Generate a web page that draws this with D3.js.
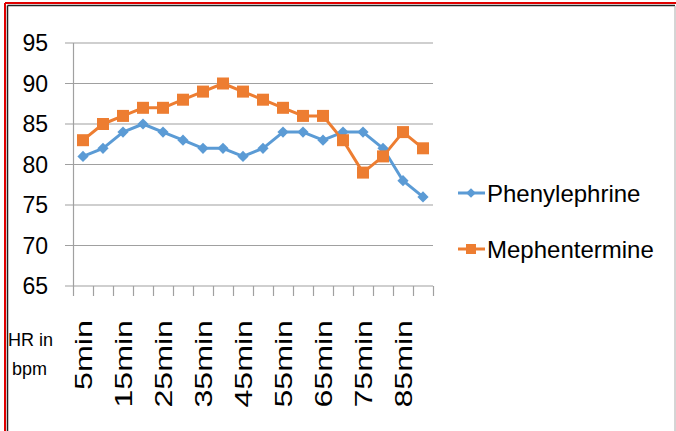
<!DOCTYPE html>
<html>
<head>
<meta charset="utf-8">
<script src="https://cdn.jsdelivr.net/npm/d3@7/dist/d3.min.js"></script>
<style>
  body { margin: 0; background: #fff; }
  text { font-family: "Liberation Sans", Arial, sans-serif; fill: #000; }
</style>
</head>
<body>
<div id="chart"></div>
<script>
const width = 676,
    height = 431;

// data
const categories = ['5min', '10min', '15min', '20min', '25min', '30min', '35min', '40min', '45min',
    '50min', '55min', '60min', '65min', '70min', '75min', '80min', '85min', '90min'];
const phenylephrine = [81, 82, 84, 85, 84, 83, 82, 82, 81, 82, 84, 84, 83, 84, 84, 82, 78, 76];
const mephentermine = [83, 85, 86, 87, 87, 88, 89, 90, 89, 88, 87, 86, 86, 83, 79, 81, 84, 82];
const yTicks = [65, 70, 75, 80, 85, 90, 95];
const seriesNames = ['Phenylephrine', 'Mephentermine'];

const svg = d3.select('#chart')
    .append('svg')
    .attr('width', width)
    .attr('height', height);

// frames
svg.append('line').attr('x1', 5).attr('y1', 3).attr('x2', width).attr('y2', 3)
    .attr('stroke', '#e00000').attr('stroke-width', 2);
svg.append('line').attr('x1', 5).attr('y1', 3).attr('x2', 5).attr('y2', height)
    .attr('stroke', '#e00000').attr('stroke-width', 2);
svg.append('line').attr('x1', 7.5).attr('y1', 5.5).attr('x2', 675).attr('y2', 5.5)
    .attr('stroke', '#222').attr('stroke-width', 1.5);
svg.append('line').attr('x1', 7.5).attr('y1', 5.5).attr('x2', 7.5).attr('y2', height)
    .attr('stroke', '#222').attr('stroke-width', 1.5);
svg.append('line').attr('x1', 675).attr('y1', 6).attr('x2', 675).attr('y2', height)
    .attr('stroke', '#aaa').attr('stroke-width', 1);

const x = d3.scaleBand()
    .domain(categories)
    .range([73, 433]);

const y = d3.scaleLinear()
    .domain([65, 95])
    .range([286, 43]);

// gridlines + y labels
const g = svg.append('g');
g.selectAll('.grid')
    .data(yTicks)
    .enter()
    .append('line')
    .attr('x1', 65)
    .attr('x2', 433)
    .attr('y1', d => y(d))
    .attr('y2', d => y(d))
    .attr('stroke', '#a0a0a0')
    .attr('stroke-width', 1.2);

g.selectAll('.ylab')
    .data(yTicks)
    .enter()
    .append('text')
    .attr('x', 48)
    .attr('y', d => y(d))
    .attr('dy', '0.36em')
    .attr('text-anchor', 'end')
    .style('font-size', '23px')
    .text(d => d);

// y axis line
g.append('line').attr('x1', 73.5).attr('x2', 73.5).attr('y1', y(95)).attr('y2', y(65))
    .attr('stroke', '#a0a0a0').attr('stroke-width', 1.2);

// x ticks at category boundaries
const bounds = categories.map(c => x(c)).concat([x.range()[1]]);
g.selectAll('.xtick')
    .data(bounds)
    .enter()
    .append('line')
    .attr('x1', d => d + 0.5)
    .attr('x2', d => d + 0.5)
    .attr('y1', y(65))
    .attr('y2', y(65) + 10)
    .attr('stroke', '#a0a0a0')
    .attr('stroke-width', 1.2);

// x labels, every other category
g.selectAll('.xlab')
    .data(categories.filter((c, i) => i % 2 === 0))
    .enter()
    .append('text')
    .attr('transform', d => 'translate(' + (x(d) + x.bandwidth() / 2 + 9) + ',320) rotate(-90)')
    .attr('text-anchor', 'end')
    .attr('textLength', d => d.length * 17.5)
    .attr('lengthAdjust', 'spacingAndGlyphs')
    .style('font-size', '24px')
    .text(d => d);

svg.append('text').attr('x', 8).attr('y', 346).style('font-size', '18px').text('HR in');
svg.append('text').attr('x', 12).attr('y', 375).style('font-size', '18px').text('bpm');

// series
const colors = ['#5b9bd5', '#ed7d31'];
const seriesData = [phenylephrine, mephentermine];
const cx = (d, i) => x(categories[i]) + x.bandwidth() / 2;

const line = d3.line()
    .x(cx)
    .y(d => y(d));

seriesData.forEach(function(vals, s) {
    svg.append('path')
        .datum(vals)
        .attr('d', line)
        .attr('fill', 'none')
        .attr('stroke', colors[s])
        .attr('stroke-width', 3)
        .attr('stroke-linejoin', 'round');
});

// diamonds
svg.selectAll('.dia')
    .data(phenylephrine)
    .enter()
    .append('path')
    .attr('d', d3.symbol(d3.symbolDiamond2, 80)())
    .attr('transform', (d, i) => 'translate(' + cx(d, i) + ',' + y(d) + ')')
    .attr('fill', colors[0]);

// squares
svg.selectAll('.sq')
    .data(mephentermine)
    .enter()
    .append('rect')
    .attr('x', (d, i) => cx(d, i) - 6)
    .attr('y', d => y(d) - 6)
    .attr('width', 12)
    .attr('height', 12)
    .attr('fill', colors[1]);

// legend
const legend = svg.append('g');
seriesNames.forEach(function(name, s) {
    const ly = 193 + s * 56;
    legend.append('line')
        .attr('x1', 458).attr('x2', 485).attr('y1', ly).attr('y2', ly)
        .attr('stroke', colors[s]).attr('stroke-width', 3);
    if (s === 0) {
        legend.append('path')
            .attr('d', d3.symbol(d3.symbolDiamond2, 60)())
            .attr('transform', 'translate(471,' + ly + ')')
            .attr('fill', colors[s]);
    } else {
        legend.append('rect')
            .attr('x', 466).attr('y', ly - 5).attr('width', 10).attr('height', 10)
            .attr('fill', colors[s]);
    }
    legend.append('text')
        .attr('x', 487)
        .attr('y', ly + 9)
        .style('font-size', '24px')
        .text(name);
});
</script>
</body>
</html>
